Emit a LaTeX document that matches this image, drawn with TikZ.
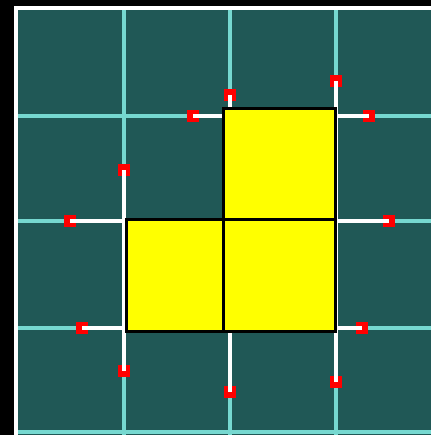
\documentclass[tikz,border=0pt]{standalone}

\tikzset{every picture/.style={line width=0.75pt}}
\tikzset{
  gridline/.style={color={rgb, 255:red, 118; green, 216; blue, 208 }, line width=2.6},
  hotline/.style={color=white, line width=3.3},
  capsq/.style={fill={rgb, 255:red, 255; green, 0; blue, 0 }, minimum size=9.5pt, inner sep=0pt},
  tile/.style={draw=black, fill={rgb, 255:red, 255; green, 255; blue, 0 }, line width=2.25},
}

\begin{document}
\begin{tikzpicture}[x=0.75pt,y=0.75pt,yscale=-1,xscale=1]
\useasboundingbox (0,0) rectangle (431,435);

%Shape: Rectangle [id:bg]
\fill [black] (0,0) rectangle (431,435);
%Shape: Rectangle [id:board]
\fill [color={rgb, 255:red, 32; green, 88; blue, 86 }] (17,9) rectangle (431,435);

%Grid lines
\foreach \gx in {124,230,336} \draw [gridline] (\gx,9) -- (\gx,435);
\foreach \gy in {116,221,328,432} \draw [gridline] (17,\gy) -- (431,\gy);

%Border
\draw [color=white, line width=2.5] (16,435) -- (16,8) -- (431,8);

%Red end caps
\node [capsq] (capTL) at (193,116) {};
\node [capsq] (capTU) at (230,95) {};
\node [capsq] (capRU) at (336,81) {};
\node [capsq] (capTR) at (369,116) {};
\node [capsq] (capLU) at (124,170) {};
\node [capsq] (capML) at (70,221) {};
\node [capsq] (capMR) at (389,221) {};
\node [capsq] (capBL) at (82,328) {};
\node [capsq] (capBR) at (362,328) {};
\node [capsq] (capLD) at (124,371) {};
\node [capsq] (capMD) at (230,392) {};
\node [capsq] (capRD) at (336,382) {};

%Joints on the outline
\coordinate (jTL) at (223,116);
\coordinate (jTU) at (230,108);
\coordinate (jTR) at (336,116);
\coordinate (jML) at (124,221);
\coordinate (jMR) at (336,221);
\coordinate (jBL) at (124,328);
\coordinate (jBR) at (336,328);
\coordinate (jMD) at (230,331);

%Straight Lines
\draw [hotline] (jTL) -- (capTL.center);
\draw [hotline] (jTU) -- (capTU.center);
\draw [hotline] (capRU.center) -- (capRD.center);
\draw [hotline] (jTR) -- (capTR.center);
\draw [hotline] (capLU.center) -- (capLD.center);
\draw [hotline] (jML) -- (capML.center);
\draw [hotline] (jMR) -- (capMR.center);
\draw [hotline] (jBL) -- (capBL.center);
\draw [hotline] (jBR) -- (capBR.center);
\draw [hotline] (jMD) -- (capMD.center);

%Shape: Rectangle [id:top]
\draw [tile] (223,108) rectangle (335,219);
%Shape: Rectangle [id:left]
\draw [tile] (126,219) rectangle (223,331);
%Shape: Rectangle [id:right]
\draw [tile] (223,219) rectangle (335,331);

\end{tikzpicture}
\end{document}
